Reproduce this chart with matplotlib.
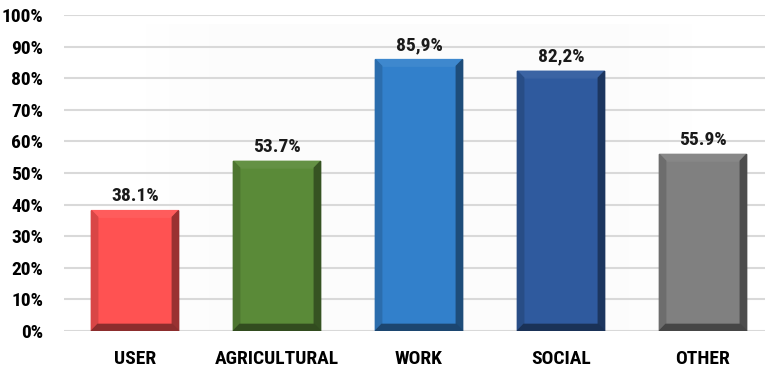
import numpy as np
import matplotlib.pyplot as plt
from matplotlib.patches import Polygon
from matplotlib.colors import to_rgb

categories = ["USER", "AGRICULTURAL", "WORK", "SOCIAL", "OTHER"]
values = [38.1, 53.7, 85.9, 82.2, 55.9]
value_labels = ["38.1%", "53.7%", "85,9%", "82,2%", "55.9%"]
colors = ["#FF5252", "#5A8A38", "#3280CB", "#2F5A9E", "#808080"]

plt.rcParams['font.family'] = ['Roboto Condensed', 'Lato', 'DejaVu Sans']

fig = plt.figure(figsize=(7.65, 3.76), dpi=100)
ax = fig.add_axes([64 / 765, 45 / 376, 710 / 765, 316 / 376])

# soft background shading
grad = np.outer(np.ones(50), np.concatenate([np.linspace(0, 1, 20), np.ones(60), np.linspace(1, 0, 20)]))
ax.imshow(grad, extent=[0.0, 4.0, 0, 97], aspect='auto', cmap='Greys', vmin=0, vmax=25,
          alpha=0.6, zorder=0)

ax.set_xlim(-0.5, 4.5)
ax.set_ylim(0, 100)
ax.set_yticks(np.arange(0, 101, 10))
ax.set_yticklabels(["%d%%" % v for v in range(0, 101, 10)])
ax.yaxis.grid(True, color="#d9d9d9", linewidth=1.5)
ax.set_axisbelow(True)
for s in ax.spines.values():
    s.set_visible(False)
ax.tick_params(length=0)
ax.tick_params(axis='y', pad=15, labelsize=14)
ax.tick_params(axis='x', pad=14)
for lab in ax.get_yticklabels():
    lab.set_fontweight('bold')

x = np.arange(len(categories))
w = 0.615
bars = ax.bar(x, values, width=w, color=colors, zorder=2)
ax.set_xticks(x)
ax.set_xticklabels(categories, fontweight='bold', fontsize=14)

# bevel edges
bx = 0.045  # bevel width in data units (x)
by = 2.1    # bevel height in data units (y)
for b, c in zip(bars, colors):
    x0 = b.get_x()
    x1 = x0 + b.get_width()
    h = b.get_height()
    base = np.array(to_rgb(c))
    light = np.clip(base + (1 - base) * 0.06, 0, 1)
    left = base * 0.85
    right = base * 0.6
    bottom = base * 0.55
    ax.add_patch(Polygon([(x0, h), (x1, h), (x1 - bx, h - by), (x0 + bx, h - by)], color=light, zorder=3))
    ax.add_patch(Polygon([(x0, 0), (x0, h), (x0 + bx, h - by), (x0 + bx, by)], color=left, zorder=3))
    ax.add_patch(Polygon([(x1, 0), (x1, h), (x1 - bx, h - by), (x1 - bx, by)], color=right, zorder=3))
    ax.add_patch(Polygon([(x0, 0), (x1, 0), (x1 - bx, by), (x0 + bx, by)], color=bottom, zorder=3))

for xi, v, t in zip(x, values, value_labels):
    ax.text(xi, v + 4.6, t, ha='center', va='center', fontsize=14, fontweight='bold',
            color='#1a1a1a', zorder=4)

fig.savefig("out.png", dpi=100)
